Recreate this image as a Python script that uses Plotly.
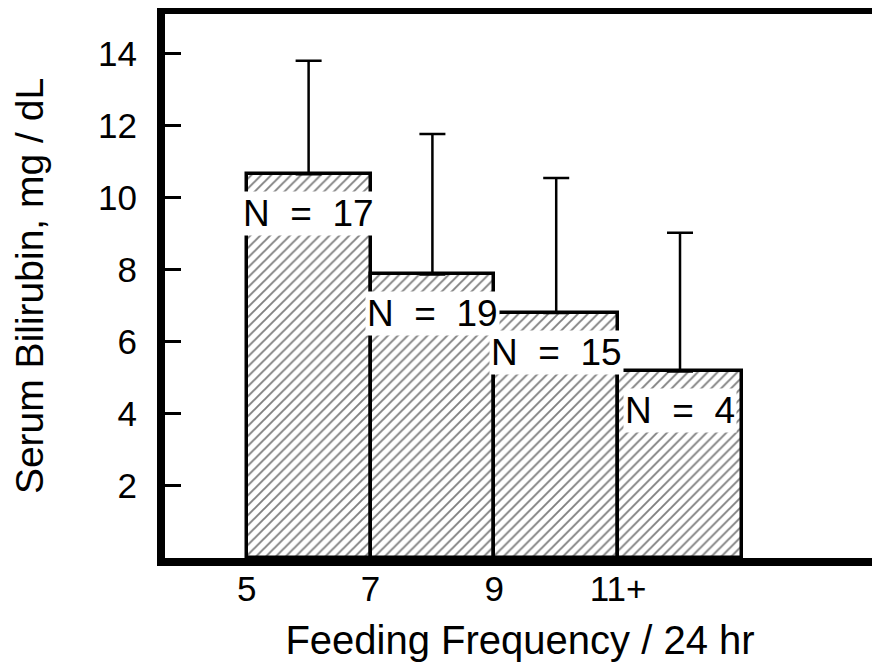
import plotly.graph_objects as go

# Data
bin_left = [5, 7, 9, 11]
bin_width = [2, 2, 2, 2]
mean_bilirubin = [10.65, 7.87, 6.8, 5.18]
sd_upper = [3.15, 3.9, 3.75, 3.85]
n_labels = ["N = 17", "N = 19", "N = 15", "N = 4"]
x_tick_vals = [5, 7, 9, 11]
x_tick_text = ["5", "7", "9", "11+"]
y_tick_vals = [2, 4, 6, 8, 10, 12, 14]

FONT = "Liberation Sans, Arial, sans-serif"

centers = [l + w / 2 for l, w in zip(bin_left, bin_width)]

fig = go.Figure()
fig.add_trace(go.Bar(
    x=centers,
    y=mean_bilirubin,
    width=bin_width,
    marker=dict(
        color="white",
        line=dict(color="black", width=3.5),
        pattern=dict(shape="/", fgcolor="black", bgcolor="white", size=7, solidity=0.27),
    ),
    error_y=dict(
        type="data",
        symmetric=False,
        array=sd_upper,
        arrayminus=[0] * len(sd_upper),
        color="black",
        thickness=2.5,
        width=13,
    ),
    showlegend=False,
    hoverinfo="skip",
))

for xc, yv, txt in zip(centers, mean_bilirubin, n_labels):
    fig.add_annotation(
        x=xc, y=yv, xref="x", yref="y",
        text=txt.replace(" ", "\u00a0\u00a0"),
        showarrow=False,
        yanchor="middle",
        yshift=-39,
        bgcolor="white",
        borderpad=1,
        font=dict(family=FONT, size=37, color="black"),
    )

# page body adds an 8px offset, so the figure is 8px smaller on each axis
fig.update_layout(
    width=872, height=654,
    margin=dict(l=157, r=5, t=6, b=104),
    paper_bgcolor="white",
    plot_bgcolor="white",
    bargap=0,
    font=dict(family=FONT, color="black", size=34),
    xaxis=dict(
        range=[3.68, 15.15],
        tickvals=x_tick_vals,
        ticktext=x_tick_text,
        ticks="",
        showgrid=False,
        zeroline=False,
        showline=True,
        linecolor="black",
        linewidth=8,
        mirror=True,
        automargin=False,
        tickfont=dict(family=FONT, size=35),
        ticklabelstandoff=-7,
        title=dict(text="Feeding Frequency / 24 hr", font=dict(family=FONT, size=40), standoff=33),
    ),
    yaxis=dict(
        range=[0, 15.1],
        tickvals=y_tick_vals,
        ticks="inside",
        ticklen=16,
        tickwidth=2.5,
        tickcolor="black",
        showgrid=False,
        zeroline=False,
        showline=True,
        linecolor="black",
        linewidth=8,
        mirror=True,
        automargin=False,
        tickfont=dict(family=FONT, size=35),
        ticklabelstandoff=13,
        title=dict(text="Serum Bilirubin, mg / dL", font=dict(family=FONT, size=39), standoff=45),
    ),
)

fig.write_html("out.html")
